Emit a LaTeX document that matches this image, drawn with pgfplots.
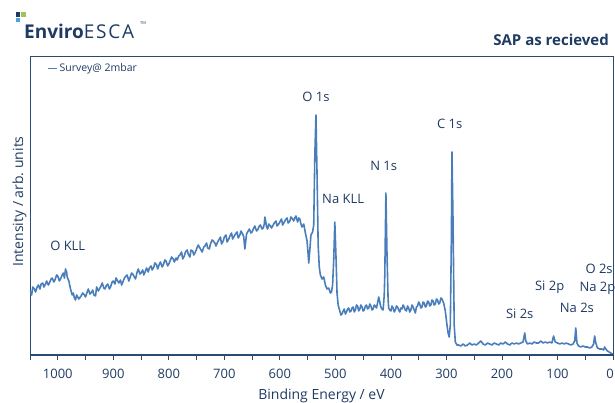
\documentclass[border=0pt]{standalone}
\usepackage{fontspec}
\setmainfont{Open Sans}
\usepackage{pgfplots}
\pgfplotsset{compat=1.18}
\definecolor{navy}{HTML}{1F3B63}
\definecolor{axcol}{HTML}{2B4A72}
\definecolor{spec}{HTML}{4A7EBB}
\definecolor{lgreen}{HTML}{9DC35A}
\definecolor{lblue}{HTML}{4BA3D9}
\begin{document}
\begin{tikzpicture}
\begin{axis}[
  at={(30bp,48bp)}, anchor=south west,
  scale only axis, width=583bp, height=299bp,
  x dir=reverse, xmin=0, xmax=1050, ymin=0, ymax=299,
  xtick={0,100,200,300,400,500,600,700,800,900,1000}, minor xtick={50,150,...,1050},
  xticklabels={0\hspace*{6bp},100,200,300,400,500,600,700,800,900,1000},
  ytick=\empty, xtick pos=bottom, tick align=outside,
  major tick length=5bp, minor tick length=5bp,
  every tick/.style={draw=axcol, line width=0.8pt},
  axis line style={draw=axcol, line width=0.8pt},
  tick label style={font=\fontsize{13bp}{15bp}\selectfont, text=navy},
  xticklabel style={yshift=-6bp},
  xlabel={Binding Energy / eV},
  xlabel style={font=\fontsize{14bp}{16bp}\selectfont, text=navy, yshift=-2.5bp},
  ylabel={Intensity / arb.\ units},
  ylabel style={font=\fontsize{14bp}{16bp}\selectfont, text=navy, at={(axis description cs:0,0.53)}, anchor=south, rotate=0, xshift=-5bp},
  clip mode=individual,
  legend style={at={(axis description cs:0.028,0.985)}, anchor=north west, draw=none, fill=none, inner sep=1bp, font=\fontsize{10.5bp}{12bp}\selectfont, text=navy},
  legend image code/.code={\draw[#1, line width=1.2pt] (0bp,0bp) -- (9bp,0bp);},
]
\addplot[spec, line width=1.6pt, line join=round, no marks] coordinates {
(1050,64) (1047,60) (1045,68) (1042,66) (1040,63) (1037,68) (1035,70) (1032,66) (1030,71) (1027,72) (1025,68) (1022,71) (1020,74) (1017,70) (1015,72) (1012,76) (1010,77) (1007,73) (1005,75)
(1002,80) (1000,79) (997,74) (995,76) (992,80) (990,82) (988,77) (986,86) (984,83) (983,78) (980,74) (977,66) (974,60) (972,62) (970,57) (968,55) (966,60) (964,58) (962,56)
(958,59) (955,62) (952,60) (950,58) (947,63) (945,66) (942,61) (940,62) (937,65) (935,60) (932,59) (930,68) (927,64) (925,66) (922,69) (920,72) (917,67) (915,66) (912,70) (910,71)
(907,66) (905,68) (902,73) (900,74) (897,71) (895,77) (892,74) (890,72) (887,75) (885,70) (882,74) (880,77) (877,79) (875,80) (872,74) (870,77) (867,82) (865,81) (862,78) (860,76)
(857,83) (855,86) (852,81) (850,82) (847,85) (845,80) (842,84) (840,87) (837,83) (835,87) (832,89) (830,85) (827,88) (825,92) (822,90) (820,86) (817,91) (815,93) (812,88) (810,90)
(807,95) (805,94) (802,89) (800,91) (797,95) (795,98) (792,96) (790,93) (787,97) (785,95) (782,99) (780,100) (777,103) (775,96) (772,99) (770,103) (767,105) (765,101) (762,98) (760,105)
(757,104) (755,100) (752,103) (750,106) (747,110) (745,108) (742,105) (740,103) (737,108) (735,109) (732,112) (730,107) (727,106) (725,111) (722,115) (720,114) (717,112) (715,109) (712,113) (710,115)
(707,118) (705,111) (702,114) (700,118) (697,120) (695,113) (692,116) (690,119) (687,122) (685,116) (682,119) (680,121) (677,123) (675,117) (672,120) (670,124) (667,121) (665,118) (663,106) (661,116)
(660,121) (657,124) (655,126) (652,122) (650,123) (647,127) (645,129) (642,124) (640,125) (637,129) (635,130) (632,126) (630,127) (628,131) (627,138) (625,132) (624,128) (622,126) (620,131)
(617,129) (615,127) (612,130) (610,132) (607,134) (605,129) (602,131) (600,133) (597,136) (595,130) (592,133) (590,135) (587,137) (585,132) (582,134) (580,138) (577,136) (575,134) (573,137) (571,139)
(568,133) (566,137) (564,136) (562,131) (560,128) (557,131) (554,122) (551,114) (549,100) (548,92) (546,105) (544,120)
(541,123) (539,130) (537,200) (535,240) (533,180) (531,110) (529,88) (527,80) (524,76) (521,78)
(518,70) (515,66) (512,67) (509,62) (507,63) (505,70) (503,95) (501,133) (499,100) (497,62)
(495,50) (492,44) (490,40) (488,41) (486,44) (484,46) (482,41) (480,43) (478,46) (476,47) (474,43) (472,44) (470,47) (468,48) (466,43) (464,45) (462,50) (460,49)
(458,44) (456,46) (454,50) (452,48) (450,44) (448,45) (446,49) (444,50) (442,46) (440,47) (438,51) (436,49) (434,45) (432,46) (430,50) (428,49) (426,47) (424,52) (422,58) (421,56)
(419,50) (418,48) (416,46) (414,45) (412,60) (411,80) (409,162) (407,100) (405,55) (404,47) (402,45) (400,44) (398,49) (396,47) (394,43) (392,45) (390,49) (388,48)
(386,45) (384,43) (382,47) (380,46) (378,50) (376,48) (374,45) (372,44) (370,49) (368,47) (366,43) (364,45) (362,50) (360,48) (358,45) (356,42) (354,48) (352,49) (350,53) (348,51)
(346,47) (344,48) (342,53) (340,52) (338,48) (336,49) (334,54) (332,53) (330,49) (328,50) (326,55) (324,54) (322,50) (320,51) (318,56) (316,55) (314,51) (312,52) (310,57) (308,56)
(305,52) (302,44) (299,30) (297,22) (295,18) (293,30) (291,120) (290,203) (288,130) (286,30)
(284,13) (281,10) (278,10) (274,9) (270,11) (266,9) (262,10) (258,12) (254,10) (250,11)
(246,10) (242,12) (238,14) (234,11) (230,10) (226,12) (222,11) (218,10) (214,12) (210,11)
(206,10) (202,12) (198,11) (194,13) (190,11) (186,10) (182,12) (178,11) (174,12) (170,11)
(166,12) (162,13) (159,22) (157,14) (154,11) (150,12) (146,11) (142,13) (138,12) (134,12)
(130,14) (126,12) (122,13) (118,12) (114,13) (110,12) (107,19) (104,13) (100,12) (96,11)
(92,12) (88,11) (84,12) (80,11) (76,10) (72,11) (69,14) (67,27) (65,12) (62,9)
(58,8) (54,9) (50,8) (46,8) (42,7) (38,8) (35,11) (33,19) (31,12) (28,7)
(24,6) (20,6) (17,5) (15,8) (13,6) (10,4) (7,3) (4,2) (1,1) (0,1)
};
\addlegendentry{Survey@ 2mbar}
\draw[axcol, line width=1.4pt] (rel axis cs:0,0) -- (rel axis cs:1,0);
\begin{scope}[every node/.style={font=\fontsize{13bp}{15bp}\selectfont, text=navy}]
\node at (axis cs:535,258) {O 1s};
\node at (axis cs:486,156) {Na KLL};
\node at (axis cs:413,189) {N 1s};
\node at (axis cs:294,231) {C 1s};
\node at (axis cs:982,109) {O KLL};
\node at (axis cs:168,41) {Si 2s};
\node at (axis cs:114,68) {Si 2p};
\node at (axis cs:65,47) {Na 2s};
\node at (axis cs:25,86) {O 2s};
\node at (axis cs:28,67) {Na 2p};
\end{scope}
\end{axis}
\fill[navy] (15.5bp,386bp) rectangle (20bp,390.5bp);
\fill[lgreen] (21bp,386bp) rectangle (25.5bp,390.5bp);
\fill[lblue] (15.5bp,380.5bp) rectangle (20bp,385bp);
\node[anchor=base west, inner sep=0, text=navy] at (24bp,364bp) {\fontsize{19bp}{21bp}\selectfont\bfseries Enviro\mdseries\addfontfeatures{LetterSpace=9}ESCA};
\node[anchor=base west, inner sep=0, text=navy] at (140bp,378bp) {\fontsize{4bp}{5bp}\selectfont TM};
\node[anchor=base east, inner sep=0, text=navy] at (609bp,357bp) {\fontsize{15bp}{18bp}\selectfont\bfseries SAP as recieved};
\pgfresetboundingbox
\path (0,0) rectangle (615bp,403bp);
\end{tikzpicture}
\end{document}
